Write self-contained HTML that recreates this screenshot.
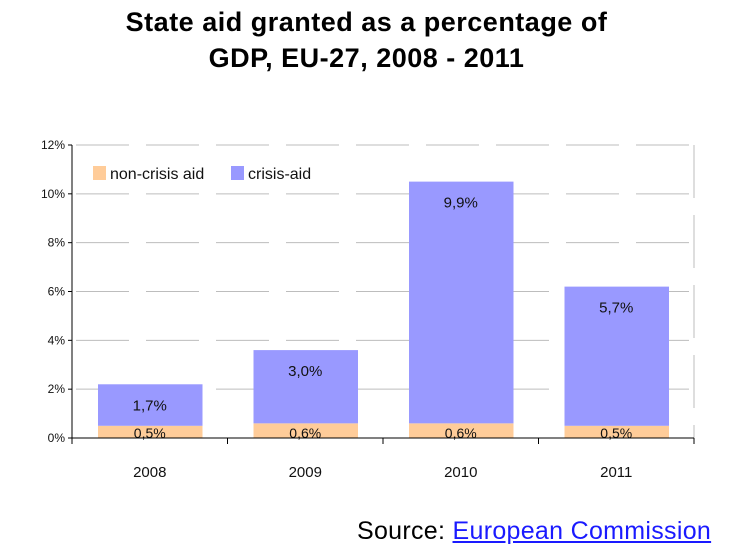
<!DOCTYPE html>
<html><head><meta charset="utf-8"><style>
body{margin:0;background:#fff;width:733px;height:559px;overflow:hidden;font-family:"Liberation Sans",sans-serif}
#title{position:absolute;top:4px;left:0;width:733px;text-align:center;font-weight:bold;font-size:27px;line-height:36px;color:#000;letter-spacing:0.5px}
#source{position:absolute;left:357px;top:517px;font-size:25px;color:#000;letter-spacing:0.3px}
#source a{color:#1a1aff;text-decoration:underline}
</style></head><body>
<div id="title">State aid granted as a percentage of<br>GDP, EU-27, 2008 - 2011</div>
<svg id="chart" width="733" height="559" style="position:absolute;left:0;top:0"></svg>
<div id="source">Source: <a>European Commission</a></div>
<script>
const categories=["2008","2009","2010","2011"];
const nonCrisis=[0.5,0.6,0.6,0.5];
const crisis=[1.7,3.0,9.9,5.7];
const nonCrisisLabels=["0,5%","0,6%","0,6%","0,5%"];
const crisisLabels=["1,7%","3,0%","9,9%","5,7%"];
const yTicks=[0,2,4,6,8,10,12];
const yTickLabels=["0%","2%","4%","6%","8%","10%","12%"];
const svg=document.getElementById('chart');const NS="http://www.w3.org/2000/svg";
const x0=72,x1=694,y0=438,yTop=145,yMax=12;
const y=v=>y0-(y0-yTop)*v/yMax;
const bw=(x1-x0)/categories.length;
function mk(t,a,p){const e=document.createElementNS(NS,t);for(const k in a)e.setAttribute(k,a[k]);(p||svg).appendChild(e);return e;}
yTicks.forEach((t,i)=>{
 if(t>0){const g=mk('line',{x1:x0+4,x2:x1-5,y1:y(t),y2:y(t),stroke:'#bdbdbd','stroke-width':1,'stroke-dasharray':'53,17'});
 
 }
 const tk=mk('line',{x1:x0-4,x2:x0,y1:y(t),y2:y(t),stroke:'#000'});
 
 
 const l=mk('text',{x:x0-7,y:y(t)+4,'text-anchor':'end','font-size':12,fill:'#111'});l.textContent=yTickLabels[i];
 
 
});
const rb=mk('line',{x1:x1,x2:x1,y1:yTop,y2:y0,stroke:'#bdbdbd','stroke-dasharray':'53,17'});


categories.forEach((c,i)=>{
 const bx=x0+bw*i+26,w=bw-51,cx=x0+bw*i+bw/2;
 const r1=mk('rect',{x:bx,y:y(nonCrisis[i]),width:w,height:y0-y(nonCrisis[i]),fill:'#ffcc99'});
 
 
 const top=nonCrisis[i]+crisis[i];
 const r2=mk('rect',{x:bx,y:y(top),width:w,height:y(nonCrisis[i])-y(top),fill:'#9999ff'});
 
 
 const l1=mk('text',{x:cx,y:y0,'text-anchor':'middle','font-size':14,fill:'#111'});l1.textContent=nonCrisisLabels[i];
 
 
 const l2=mk('text',{x:cx,y:y(top)+26,'text-anchor':'middle','font-size':15,fill:'#111'});l2.textContent=crisisLabels[i];
 
 
 const xl=mk('text',{x:cx,y:y0+39,'text-anchor':'middle','font-size':15,fill:'#111'});xl.textContent=c;
 
 
});
for(let i=0;i<=categories.length;i++){const t=mk('line',{x1:x0+bw*i,x2:x0+bw*i,y1:y0,y2:y0+6,stroke:'#000'});
 
 }
const ax=mk('line',{x1:x0,x2:x0,y1:yTop,y2:y0+6,stroke:'#000'});


const xa=mk('line',{x1:x0,x2:x1,y1:y0,y2:y0,stroke:'#000'});


const lg=mk('g',{});


mk('rect',{x:93,y:166,width:13,height:14,fill:'#ffcc99'},lg);
const t1=mk('text',{x:110,y:179,'font-size':16,fill:'#111'},lg);t1.textContent='non-crisis aid';
mk('rect',{x:231,y:166,width:13,height:14,fill:'#9999ff'},lg);
const t2=mk('text',{x:248,y:179,'font-size':16,fill:'#111'},lg);t2.textContent='crisis-aid';
</script>
</body></html>
